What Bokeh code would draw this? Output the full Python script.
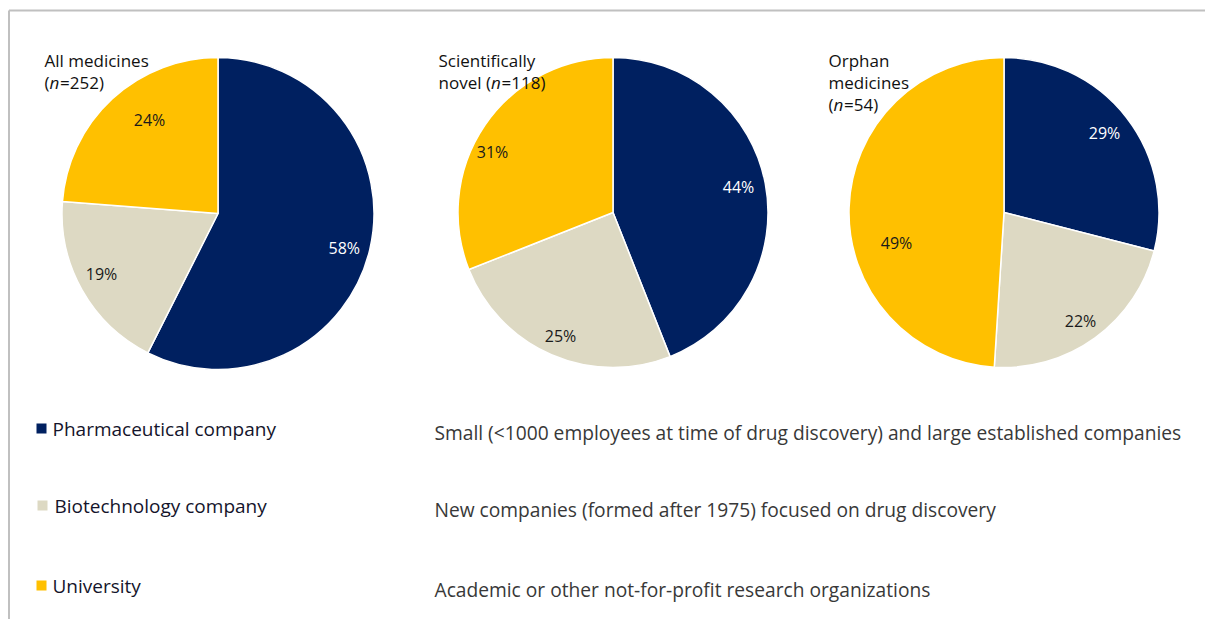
import math
from bokeh.plotting import figure
from bokeh.models import Range1d, ColumnDataSource, Label
from bokeh.core.properties import value
from bokeh.embed import file_html
from bokeh.resources import INLINE

# ---------------- data ----------------
categories = ["Pharmaceutical company", "Biotechnology company", "University"]
descriptions = [
    "Small (<1000 employees at time of drug discovery) and large established companies",
    "New companies (formed after 1975) focused on drug discovery",
    "Academic or other not-for-profit research organizations",
]
panel_title_lines = [["All medicines"], ["Scientifically"], ["Orphan", "medicines"]]
panel_n_prefix = ["(", "novel (", "("]
panel_n = [252, 118, 54]
all_medicines = [58, 19, 24]
scientifically_novel = [44, 25, 31]
orphan_medicines = [29, 22, 49]
panels = [all_medicines, scientifically_novel, orphan_medicines]

# ---------------- style ----------------
colors = ["#002060", "#DDD9C3", "#FFC000"]
label_colors = ["#ffffff", "#1a1a1a", "#1a1a1a"]
# label placement per panel: radius fraction and angular shift (deg, clockwise)
label_r = [[0.84, 0.84, 0.745], [0.827, 0.863, 0.871], [0.825, 0.854, 0.72]]
label_shift = [[2.1, 2.1, 6.7], [-0.9, -0.3, -7.4], [-0.4, 0.7, -17.4]]
FONT = "Open Sans"

W, H = 1205, 619


def px(xp):  # page x -> data x
    return xp


def py(yp):  # page y -> data y (y up)
    return H - yp


p = figure(width=W, height=H, x_range=Range1d(0, W), y_range=Range1d(0, H),
           output_backend="svg", toolbar_location=None, min_border=0)
p.axis.visible = False
p.grid.visible = False
p.outline_line_color = None
p.background_fill_color = "white"

# frame lines (top & left)
p.segment(x0=[px(8.5), px(8.5)], y0=[py(10), py(10)], x1=[px(8.5), W + 20], y1=[-20, py(10)],
          line_color="#c0c0c0", line_width=2)

centers = [(217.5, 213), (612.5, 212), (1003.5, 212)]
radii = [156, 155, 155]

# Open Sans advance widths (em) for the title prefix characters
adv = {"(": 0.296, "n": 0.613, "o": 0.602, "v": 0.501, "e": 0.561, "l": 0.258, " ": 0.26}
title_x = [44, 438, 828]
TS = 17

for k, vals in enumerate(panels):
    cx, cy = px(centers[k][0]), py(centers[k][1])
    r = radii[k]
    total = float(sum(vals))
    cum = 0.0
    starts, ends, lx, ly, txt = [], [], [], [], []
    for v in vals:
        a0 = math.pi / 2 - 2 * math.pi * (cum + v) / total
        a1 = math.pi / 2 - 2 * math.pi * cum / total
        starts.append(a0)
        ends.append(a1)
        cum += v
    for i, v in enumerate(vals):
        mid = (starts[i] + ends[i]) / 2 - math.radians(label_shift[k][i])
        lx.append(cx + label_r[k][i] * r * math.cos(mid))
        ly.append(cy + label_r[k][i] * r * math.sin(mid))
        txt.append(f"{v}%")
    src = ColumnDataSource(dict(start=starts, end=ends, color=colors,
                                lx=lx, ly=ly, txt=txt, tc=label_colors))
    p.wedge(x=cx, y=cy, radius=r, start_angle="start", end_angle="end",
            fill_color="color", line_color="white", line_width=1.5, source=src)
    p.text(x="lx", y="ly", text="txt", text_color="tc", source=src,
           text_font=value(FONT), text_font_size="16px",
           text_align="center", text_baseline="middle")

    # titles
    tx = px(title_x[k])
    base = 60
    for j, line in enumerate(panel_title_lines[k]):
        p.add_layout(Label(x=tx, y=py(base + 22 * j), text=line, text_font=FONT,
                           text_font_size=f"{TS}px", text_color="#111111",
                           text_baseline="alphabetic"))
    yline = py(base + 22 * len(panel_title_lines[k]))
    pre = panel_n_prefix[k]
    w_pre = sum(adv[c] for c in pre) * TS
    p.add_layout(Label(x=tx, y=yline, text=pre, text_font=FONT, text_font_size=f"{TS}px",
                       text_color="#111111", text_baseline="alphabetic"))
    p.add_layout(Label(x=tx + w_pre, y=yline, text="n", text_font=FONT,
                       text_font_size=f"{TS}px", text_font_style="italic",
                       text_color="#111111", text_baseline="alphabetic"))
    p.add_layout(Label(x=tx + w_pre + 0.62 * TS, y=yline, text=f"={panel_n[k]})",
                       text_font=FONT, text_font_size=f"{TS}px", text_color="#111111",
                       text_baseline="alphabetic"))

# legend rows
leg_y = [428, 505, 585]
sq = ColumnDataSource(dict(x=[px(41), px(42), px(41)], y=[py(v) for v in leg_y], c=colors,
                           name=categories, desc=descriptions,
                           tx=[px(52), px(54), px(52)], dx=[px(434)] * 3,
                           dy=[py(v + 4) for v in leg_y]))
p.rect(x="x", y="y", width=10, height=10, fill_color="c", line_color=None, source=sq)
p.text(x="tx", y="y", text="name", source=sq, text_font=value(FONT),
       text_font_size="19px", text_color="#14142b", text_baseline="middle")
p.text(x="dx", y="dy", text="desc", source=sq, text_font=value(FONT),
       text_font_size="19.2px", text_color="#383838", text_baseline="middle")

open("out.html", "w").write(file_html(p, INLINE))
